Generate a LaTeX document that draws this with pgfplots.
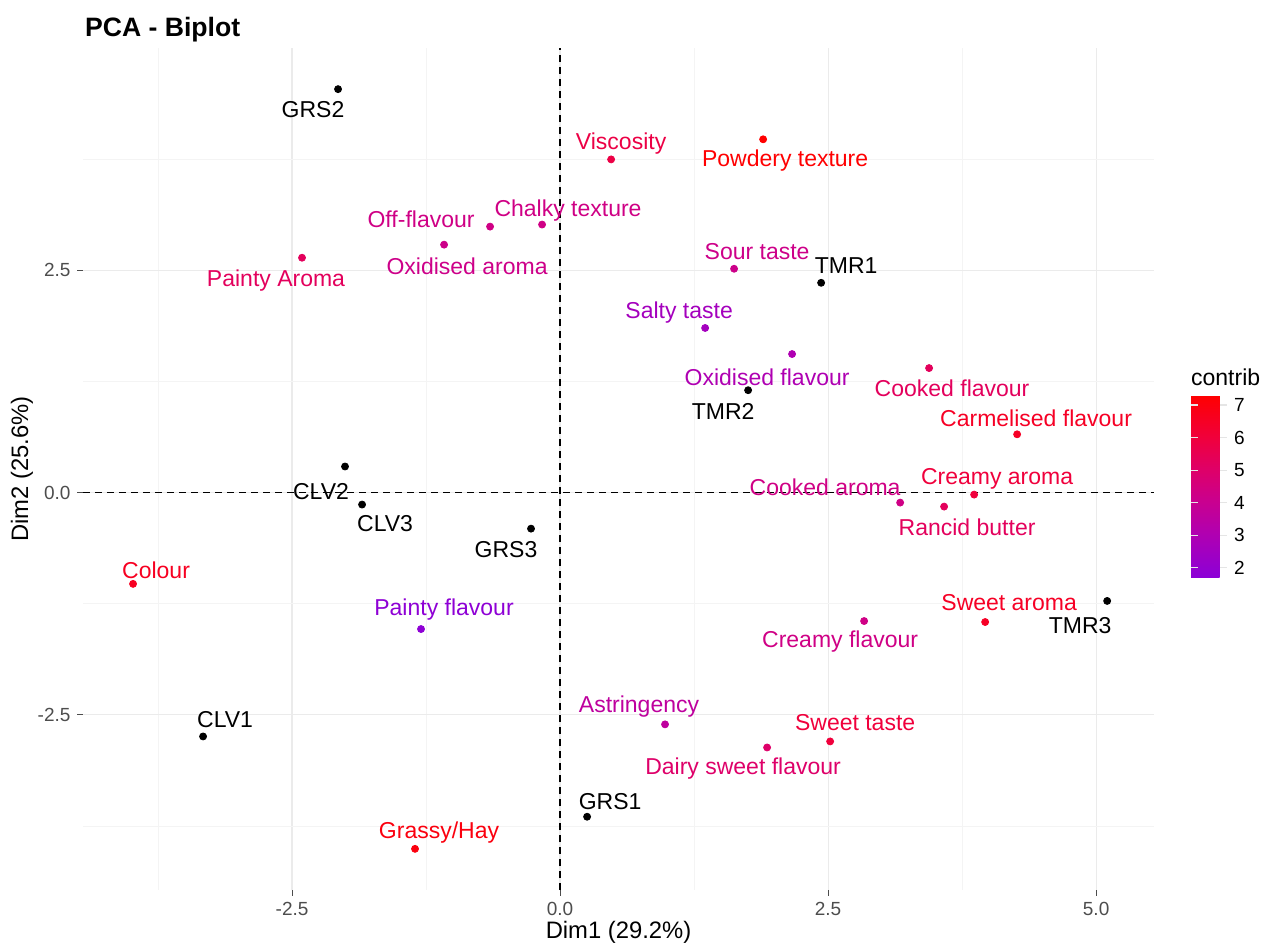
\documentclass[border=0pt]{standalone}
\usepackage{pgfplots}
\pgfplotsset{compat=1.18}
\usepackage{pgfplotstable}
\usepackage{fontspec}
\setmainfont{Liberation Sans}
\definecolor{gridmaj}{HTML}{EBEBEB}
\definecolor{gridmin}{HTML}{F4F4F4}
\definecolor{tickgray}{HTML}{4D4D4D}
\newcommand{\lblfont}{\fontsize{11.5}{13}\selectfont}
\newcommand{\tickfont}{\fontsize{9.5}{11}\selectfont}

\pgfplotstableread[col sep=comma,row sep=\\]{
x,y,c,dx,dy,label\\
0.476,3.747,5.8,5,8,Viscosity\\
1.894,3.973,7.3,11,-10.5,Powdery texture\\
-0.653,2.991,4.3,-34.5,3.5,Off-flavour\\
-0.168,3.014,4.3,13,7,Chalky texture\\
-1.082,2.788,4.2,11.5,-11,Oxidised aroma\\
-2.407,2.641,5.3,-13,-11.5,Painty Aroma\\
1.623,2.517,4.2,11.5,8.5,Sour taste\\
1.353,1.851,2.6,-13,7.5,Salty taste\\
2.164,1.558,3.0,-12.5,-11.5,Oxidised flavour\\
3.442,1.400,5.3,11.5,-10,Cooked flavour\\
4.263,0.655,6.5,9.5,8,Carmelised flavour\\
3.862,-0.023,6.0,11.5,8,Creamy aroma\\
3.172,-0.113,4.3,-37.5,7.5,Cooked aroma\\
3.582,-0.158,5.3,11.5,-10.5,Rancid butter\\
-3.983,-1.027,6.6,11.5,7,Colour\\
-1.297,-1.535,1.8,11.5,9.5,Painty flavour\\
3.965,-1.456,6.5,12,9.5,Sweet aroma\\
2.836,-1.445,4.3,-12,-10.5,Creamy flavour\\
0.979,-2.607,3.6,-13,9,Astringency\\
2.519,-2.799,6.0,12.5,9.5,Sweet taste\\
1.931,-2.867,5.0,-12,-10.5,Dairy sweet flavour\\
-1.353,-4.007,7.0,12,8,Grassy/Hay\\
}\vars

\pgfplotstableread[col sep=comma,row sep=\\]{
x,y,dx,dy,label\\
-2.071,4.537,-12.5,-10,GRS2\\
2.435,2.359,12.5,8.5,TMR1\\
1.754,1.151,-12.5,-10.5,TMR2\\
-2.006,0.293,-12,-12.5,CLV2\\
-1.847,-0.135,11.5,-9.5,CLV3\\
-0.271,-0.406,-12.5,-10.5,GRS3\\
5.103,-1.219,-13.5,-12.5,TMR3\\
-3.330,-2.743,11,8.5,CLV1\\
0.252,-3.646,11.5,7.5,GRS1\\
}\inds

\begin{document}
\begin{tikzpicture}
\path[use as bounding box] (-41.5pt,-28.5pt) rectangle (597.5pt,445pt);
\begin{axis}[
  scale only axis,
  width=535.5pt, height=421pt,
  xmin=-4.45, xmax=5.54,
  ymin=-4.47, ymax=5.0,
  clip=false,
  axis line style={draw=none},
  xtick={-2.5,0,2.5,5}, xticklabels={-2.5,0.0,2.5,5.0},
  ytick={-2.5,0,2.5}, yticklabels={-2.5,0.0,2.5},
  minor xtick={-3.75,-1.25,1.25,3.75},
  minor ytick={-3.75,-1.25,1.25,3.75},
  grid=both,
  major grid style={draw=gridmaj, line width=0.6pt},
  minor grid style={draw=gridmin, line width=0.4pt},
  xtick pos=bottom, ytick pos=left,
  tick align=outside,
  major tick length=2.75pt, minor tick length=0pt,
  tick style={draw=tickgray, line width=0.5pt},
  ticklabel style={font=\tickfont, text=tickgray},
  /pgf/number format/assume math mode=true,
  every axis x label/.style={at={(axis description cs:0.5,0)}, anchor=center, yshift=-21pt},
  every axis y label/.style={at={(axis description cs:0,0.5)}, anchor=center, rotate=90, yshift=30.5pt},
  label style={font=\fontsize{11.9}{13}\selectfont},
  xlabel={Dim1 (29.2\%)},
  ylabel={Dim2 (25.6\%)},
  title={PCA - Biplot},
  title style={at={(axis description cs:0,1)}, anchor=base west, xshift=-2.5pt, yshift=-0.5pt, font=\fontsize{13.3}{15}\selectfont\bfseries},
  colormap={contrib}{rgb255(0cm)=(140,0,215); rgb255(1.28cm)=(175,0,178); rgb255(2.28cm)=(200,0,145); rgb255(3.28cm)=(222,0,105); rgb255(4.28cm)=(240,0,60); rgb255(5.59cm)=(255,0,0)},
  point meta min=1.72, point meta max=7.31,
  colorbar,
  every colorbar/.append style={width=18pt, scale only axis},
  colorbar style={
    at={(parent axis.south east)}, anchor=north west,
    xshift=10pt, yshift=247.5pt,
    height=91pt,
    axis line style={draw=none},
    ytick={2,3,4,5,6,7}, yticklabels={2,3,4,5,6,7},
    yticklabel pos=right,
    ytick pos=both,
    tick align=inside,
    major tick length=3.5pt,
    tick style={draw=white!80!gray, line width=0.6pt},
    yticklabel style={font=\tickfont, text=black},
    title={contrib},
    title style={at={(axis description cs:0,1)}, anchor=base west, xshift=-3.5pt, yshift=-1.5pt, font=\lblfont},
  },
]
\addplot[black, dash pattern=on 3.5pt off 2.5pt, line width=0.6pt] coordinates {(0,-4.47) (0,5.0)};
\addplot[black, dash pattern=on 3.5pt off 2.5pt, line width=0.6pt] coordinates {(-4.45,0) (5.54,0)};

% variable points, coloured by contribution
\addplot[scatter, only marks, mark=*, mark size=1.75pt,
  scatter src=explicit,
  scatter/use mapped color={draw=mapped color, fill=mapped color},
] table[x=x, y=y, meta=c] {\vars};

% variable labels
\addplot[only marks, mark=none, draw=none,
  point meta=explicit symbolic,
  visualization depends on={\thisrow{dx}\as\myshx},
  visualization depends on={\thisrow{dy}\as\myshy},
  visualization depends on={(\thisrow{c}-1.72)/5.59*1000\as\mycv},
  nodes near coords,
  nodes near coords style={anchor=center, xshift=\myshx pt, yshift=\myshy pt, font=\lblfont, inner sep=0pt, /pgfplots/color of colormap={\mycv}},
] table[x=x, y=y, meta=label] {\vars};

% individuals
\addplot[only marks, mark=*, mark size=1.75pt, black,
  point meta=explicit symbolic,
  visualization depends on={\thisrow{dx}\as\myshx},
  visualization depends on={\thisrow{dy}\as\myshy},
  nodes near coords,
  nodes near coords style={anchor=center, xshift=\myshx pt, yshift=\myshy pt, text=black, font=\lblfont, inner sep=0pt},
] table[x=x, y=y, meta=label] {\inds};
\end{axis}
\end{tikzpicture}
\end{document}
